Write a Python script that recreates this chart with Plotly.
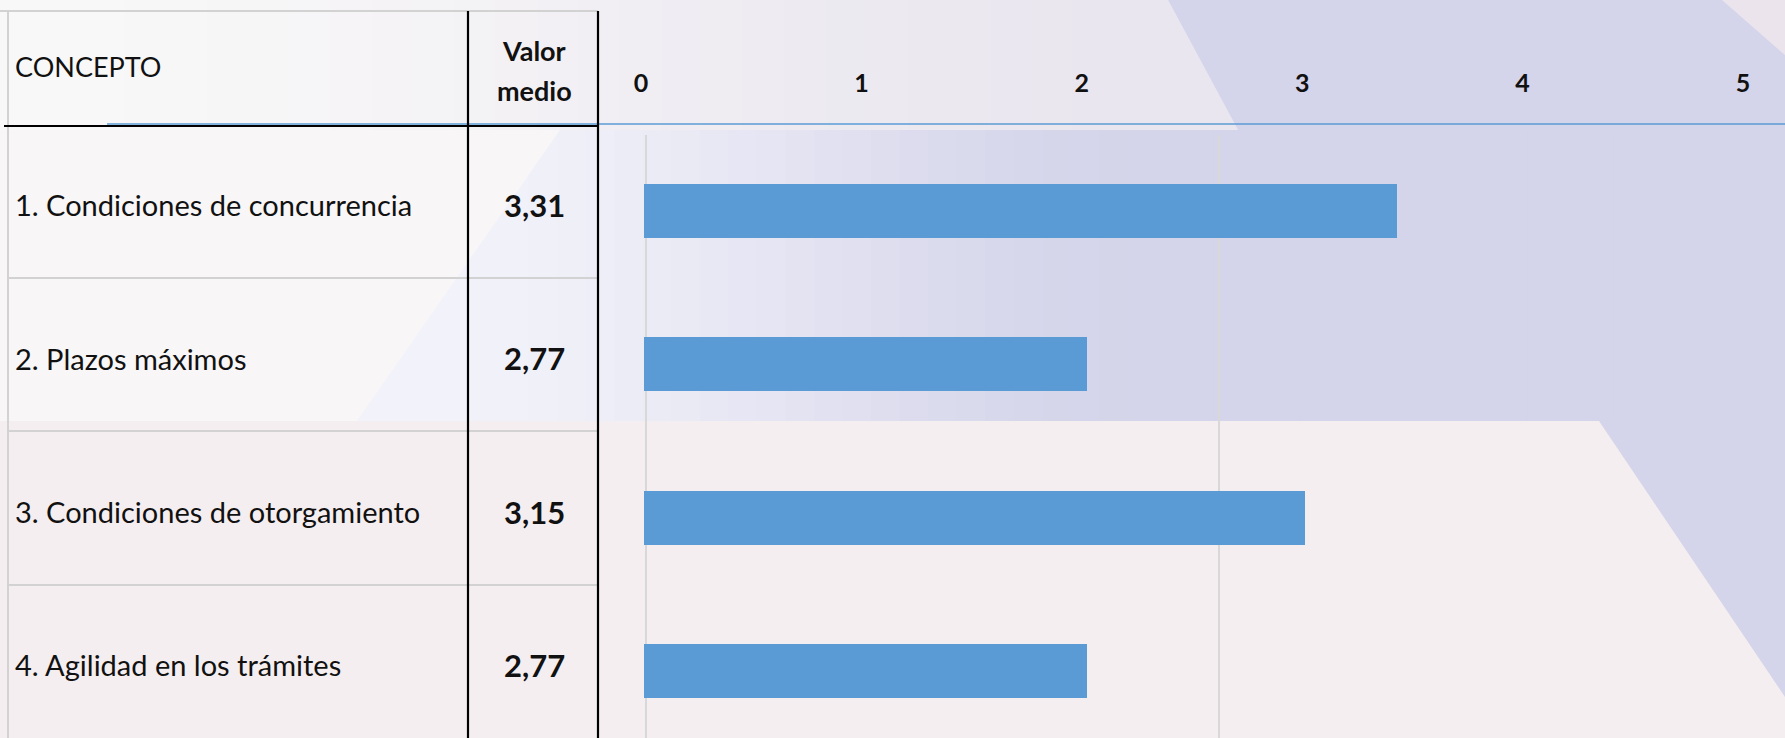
import plotly.graph_objects as go

# ---------------- data ----------------
conceptos = [
    "1. Condiciones de concurrencia",
    "2. Plazos máximos",
    "3. Condiciones de otorgamiento",
    "4. Agilidad en los trámites",
]
valor_medio = [3.31, 2.77, 3.15, 2.77]
escala_ticks = [0, 1, 2, 3, 4, 5]
header_concepto = "CONCEPTO"
header_valor = ["Valor", "medio"]

W, H = 1785, 738
BAR = "#5b9bd5"
LAV = "#d4d4ea"


def P(x, y):
    return x / W, 1 - y / H


def path(pts):
    s = ""
    for i, (x, y) in enumerate(pts):
        X, Y = P(x, y)
        s += ("M" if i == 0 else "L") + f"{X:.5f},{Y:.5f} "
    return s + "Z"


def clip(poly, xa, xb):
    def half(pts, keep, xc):
        out = []
        n = len(pts)
        for i in range(n):
            a, b = pts[i], pts[(i + 1) % n]
            ia, ib = keep(a[0]), keep(b[0])
            if ia:
                out.append(a)
            if ia != ib:
                t = (xc - a[0]) / (b[0] - a[0])
                out.append((xc, a[1] + t * (b[1] - a[1])))
        return out
    p = half(poly, lambda x: x >= xa, xa)
    if not p:
        return p
    return half(p, lambda x: x <= xb, xb)


def hx(c):
    c = c.lstrip("#")
    return [int(c[i:i + 2], 16) for i in (0, 2, 4)]


def mix(c1, c2, t):
    a, b = hx(c1), hx(c2)
    return "#" + "".join(f"{round(a[i] + (b[i] - a[i]) * t):02x}" for i in range(3))


shapes = []


def poly_shape(pts, color, layer="below"):
    shapes.append(dict(type="path", path=path(pts), xref="paper", yref="paper",
                       fillcolor=color, line=dict(width=0), layer=layer))


def gradient(poly, x0, x1, c0, c1, n=40):
    xs = [p[0] for p in poly]
    lo, hi = min(xs), max(xs)
    step = (hi - lo) / n
    for i in range(n):
        xa, xb = lo + i * step, lo + (i + 1) * step + 0.8
        pc = clip(poly, xa, xb)
        if len(pc) < 3:
            continue
        xm = (xa + xb) / 2
        t = min(max((xm - x0) / (x1 - x0), 0), 1)
        t = t * t * (3 - 2 * t)
        poly_shape(pc, mix(c0, c1, t))


# background
poly_shape([(0, 0), (W, 0), (W, 421), (0, 421)], "#f8f6f7")
gradient([(0, 0), (1168, 0), (1238, 130), (0, 130)], 0, 1200, "#f9f8f8", "#e9e6ef", n=30)
poly_shape([(1168, 0), (W, 0), (W, 130), (1238, 130)], LAV)
poly_shape([(1722, 0), (W, 0), (W, 55)], "#ebe4ec")
gradient([(560, 130), (W, 130), (W, 421), (357, 421)], 420, 1180, "#f2f2fa", LAV, n=50)
poly_shape([(0, 421), (W, 421), (W, H), (0, H)], "#f5eef0")
poly_shape([(1599, 421), (W, 421), (W, 697)], LAV)


def line(x0, y0, x1, y1, color, width):
    X0, Y0 = P(x0, y0)
    X1, Y1 = P(x1, y1)
    shapes.append(dict(type="line", xref="paper", yref="paper", x0=X0, y0=Y0, x1=X1, y1=Y1,
                       line=dict(color=color, width=width), layer="above"))


# table lines
GRAY = "#d2d2d2"
line(0, 11, 598, 11, GRAY, 2)
line(8, 11, 8, H, GRAY, 2)
for yy in (278, 431, 585):
    line(8, yy, 598, yy, GRAY, 2)
line(107, 124, W, 124, BAR, 1.5)
line(4, 126, 598, 126, "#000000", 2.2)
line(468, 11, 468, H, "#000000", 2.2)
line(598, 11, 598, H, "#000000", 2.2)

fig = go.Figure()
fig.add_trace(go.Bar(
    x=valor_medio, y=conceptos, orientation="h",
    marker=dict(color=BAR, line=dict(width=0)),
    width=0.352, hoverinfo="x+y", showlegend=False,
))
fig.add_trace(go.Scatter(x=escala_ticks, y=[None] * len(escala_ticks), xaxis="x2",
                         mode="markers", showlegend=False, hoverinfo="skip"))

FONT = "Lato"
ann = []
for c, v in zip(conceptos, valor_medio):
    ann.append(dict(x=13 / W, xref="paper", y=c, yref="y", yshift=6, text=c,
                    xanchor="left", yanchor="middle", showarrow=False,
                    font=dict(family=FONT, size=29, color="#111111")))
    ann.append(dict(x=534 / W, xref="paper", y=c, yref="y", yshift=6,
                    text="<b>" + f"{v:.2f}".replace(".", ",") + "</b>",
                    xanchor="center", yanchor="middle", showarrow=False,
                    font=dict(family=FONT, size=31, color="#111111")))
ann.append(dict(x=13 / W, xref="paper", y=1 - 66 / H, yref="paper", text=header_concepto,
                xanchor="left", yanchor="middle", showarrow=False,
                font=dict(family=FONT, size=27, color="#111111")))
for word, yy in zip(header_valor, (50, 90)):
    ann.append(dict(x=534 / W, xref="paper", y=1 - yy / H, yref="paper",
                    text="<b>" + word + "</b>",
                    xanchor="center", yanchor="middle", showarrow=False,
                    font=dict(family=FONT, size=27, color="#111111")))

x0p = 644 / W
bar_scale = 574.0
top_scale = 220.4
x2_left = 600
fig.update_layout(
    width=W, height=H,
    margin=dict(l=0, r=0, t=0, b=0),
    paper_bgcolor="#f5eff0",
    plot_bgcolor="rgba(0,0,0,0)",
    shapes=shapes,
    annotations=ann,
    bargap=0,
    xaxis=dict(domain=[x0p, 1], range=[2 - 2 / bar_scale, 2 + (W - 644) / bar_scale],
               tickvals=[2, 3], showticklabels=False, showgrid=True,
               gridcolor="#d8d8d8", gridwidth=1.5, zeroline=False, showline=False,
               fixedrange=True),
    xaxis2=dict(domain=[x2_left / W, 1], anchor="free", side="top",
                position=1 - 97 / H,
                range=[(x2_left - 641) / top_scale, (W - 641) / top_scale],
                tickvals=escala_ticks, ticktext=[str(t) for t in escala_ticks],
                showgrid=False, zeroline=False, showline=False, ticks="",
                tickfont=dict(family=FONT, size=25, color="#111111", weight="bold"),
                fixedrange=True),
    yaxis=dict(domain=[0, 1 - 135 / H], range=[(H - 211) / 153.3, (135 - 211) / 153.3],
               showticklabels=False, showgrid=False, zeroline=False, showline=False,
               categoryorder="array", categoryarray=conceptos, fixedrange=True),
)

fig.write_html("out.html", config={"displayModeBar": False},
               post_script="document.body.style.margin='0';document.body.style.overflow='hidden';")
